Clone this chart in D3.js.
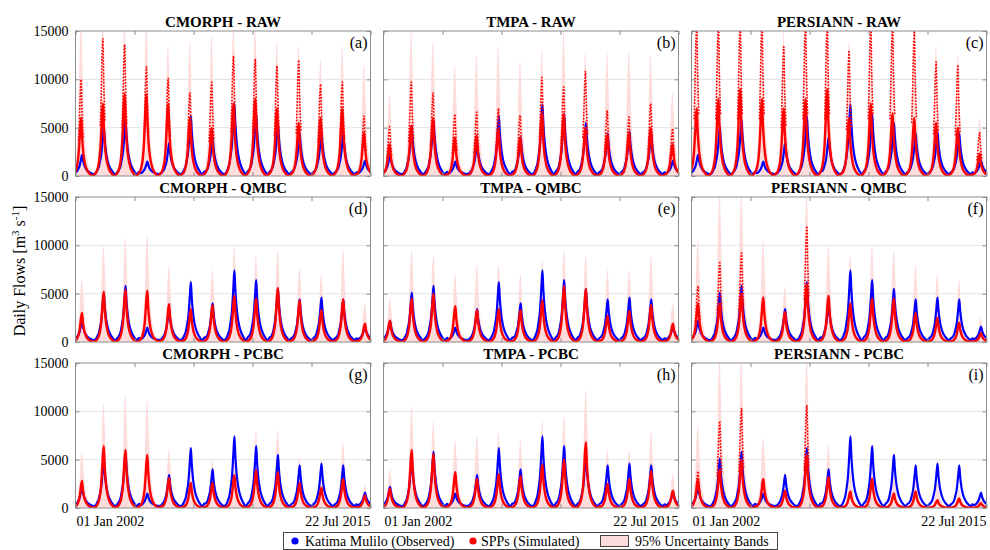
<!DOCTYPE html>
<html>
<head>
<meta charset="utf-8">
<script src="https://cdn.jsdelivr.net/npm/d3@7"></script>
<style>
  body { margin: 0; background: #fff; }
  svg text { font-family: "Liberation Serif", "Times New Roman", serif; fill: #000; }
</style>
</head>
<body>
<svg id="chart" width="990" height="550"></svg>
<script>
// daily flows at Katima Mulilo, one value per water year
var years = [2002, 2003, 2004, 2005, 2006, 2007, 2008, 2009, 2010, 2011, 2012, 2013, 2014, 2015];
var obsPeak = [2200, 5100, 5800, 1500, 3400, 6200, 4000, 7400, 6400, 5500, 4400, 4600, 4400, 1600];
var obsBase = 200, simBase = 30;

// typical hydrograph (fraction of the year from 1 Jan, fraction of the annual peak)
var profT = [0, 0.07, 0.13, 0.18, 0.22, 0.26, 0.30, 0.34, 0.40, 0.48, 0.58, 0.70, 0.82, 0.92];
var obsF  = [0.08, 0.15, 0.27, 0.40, 0.57, 0.80, 1.00, 0.74, 0.47, 0.27, 0.14, 0.05, 0.00, 0.04];
var simF  = [0.05, 0.11, 0.21, 0.37, 0.59, 0.86, 1.00, 0.68, 0.39, 0.20, 0.09, 0.03, 0.00, 0.02];
var bandF = [0.06, 0.14, 0.28, 0.48, 0.74, 0.94, 1.00, 0.82, 0.50, 0.26, 0.11, 0.04, 0.00, 0.03];

// simulated peaks, scatter tops and 95% band tops per panel
var cmorphRawSim   = [6000, 7500, 8500, 8500, 7500, 6000, 5000, 7500, 8000, 7000, 5500, 6000, 7000, 4500];
var cmorphRawSpray = [10000, 14200, 13600, 11300, 10100, 8600, 9700, 12400, 12100, 11400, 12000, 9500, 9700, 6200];
var cmorphRawBand  = [16000, 16000, 16000, 16000, 13500, 14000, 14500, 15500, 15500, 14000, 13500, 12000, 13500, 11500];

var tmpaRawSim   = [3300, 5200, 6000, 4000, 4200, 4800, 4000, 6500, 6400, 5000, 4300, 4500, 5000, 3300];
var tmpaRawSpray = [5100, 9700, 8600, 6400, 6600, 7000, 6300, 10200, 9200, 10800, 6800, 6100, 7500, 4900];
var tmpaRawBand  = [8500, 15000, 14000, 11500, 12500, 13500, 11900, 13200, 15000, 12800, 12800, 13000, 12500, 8700];

var persiannRawSim   = [7000, 8000, 9000, 8000, 7000, 8000, 9000, 6000, 7500, 6500, 6000, 5500, 5000, 2300];
var persiannRawSpray = [16000, 16000, 16000, 16000, 13500, 16000, 16000, 13000, 16000, 16000, 15000, 11800, 11500, 4500];
var persiannRawBand  = [16000, 16000, 16000, 16000, 15000, 16000, 16000, 14000, 16000, 16000, 16000, 13500, 12500, 6000];

var cmorphQmbcSim  = [3000, 5200, 5400, 5300, 3900, 3400, 3800, 4800, 4500, 5600, 4300, 3300, 4400, 1900];
var cmorphQmbcBand = [6500, 10000, 10800, 11100, 7900, 6600, 7500, 10000, 9000, 9600, 7600, 7000, 9600, 4000];

var tmpaQmbcSim  = [2200, 4500, 5000, 3700, 3300, 3400, 3300, 4300, 5800, 5500, 2700, 3200, 3800, 1900];
var tmpaQmbcBand = [4500, 9500, 9000, 7000, 8000, 8000, 7000, 8500, 9500, 9000, 7500, 7500, 9000, 4000];

var persiannQmbcSim   = [4000, 4000, 5000, 4600, 3100, 6000, 4800, 4000, 4500, 4500, 3000, 2500, 2000, 900];
var persiannQmbcSpray = [5800, 8200, 9200, 0, 0, 12000, 0, 0, 0, 0, 0, 0, 0, 0];
var persiannQmbcBand  = [10500, 15500, 15500, 10500, 5800, 15500, 10000, 9000, 10000, 9500, 8000, 7000, 6500, 2500];

var cmorphPcbcSim  = [2800, 6400, 6000, 5500, 3100, 2600, 2600, 3400, 3900, 3700, 2600, 2100, 3000, 1300];
var cmorphPcbcBand = [5800, 10800, 11800, 11200, 6000, 5000, 5000, 7000, 8000, 8100, 5200, 5000, 6800, 2400];

var tmpaPcbcSim  = [2000, 6000, 5600, 3700, 3000, 3500, 3300, 4500, 5000, 6800, 2500, 3000, 3800, 1800];
var tmpaPcbcBand = [4000, 10500, 9000, 7000, 7500, 7800, 7000, 9000, 9500, 12200, 6000, 6000, 8000, 3500];

var persiannPcbcSim   = [3000, 4000, 5000, 3000, 1800, 5500, 3200, 1700, 3000, 1500, 1700, 800, 1000, 500];
var persiannPcbcSpray = [3800, 9000, 10300, 0, 0, 10600, 0, 0, 0, 0, 0, 0, 0, 0];
var persiannPcbcBand  = [8500, 15500, 15500, 7300, 3800, 15500, 6500, 4000, 5000, 3500, 3500, 2500, 2000, 1500];

// timing offset of the simulated peaks (years) per panel
var simShift = [-0.04, -0.02, -0.06, 0, 0, 0, 0, 0, 0];

var titles = ["CMORPH - RAW", "TMPA - RAW", "PERSIANN - RAW",
              "CMORPH - QMBC", "TMPA - QMBC", "PERSIANN - QMBC",
              "CMORPH - PCBC", "TMPA - PCBC", "PERSIANN - PCBC"];
var tags = ["(a)", "(b)", "(c)", "(d)", "(e)", "(f)", "(g)", "(h)", "(i)"];
var yTicks = [0, 5000, 10000, 15000];
var xLabels = ["01 Jan 2002", "22 Jul 2015"];
var startDate = new Date(2002, 0, 1), endDate = new Date(2015, 6, 22);

var panels = [
  { sim: cmorphRawSim, spray: cmorphRawSpray, band: cmorphRawBand },
  { sim: tmpaRawSim, spray: tmpaRawSpray, band: tmpaRawBand },
  { sim: persiannRawSim, spray: persiannRawSpray, band: persiannRawBand },
  { sim: cmorphQmbcSim, spray: null, band: cmorphQmbcBand },
  { sim: tmpaQmbcSim, spray: null, band: tmpaQmbcBand },
  { sim: persiannQmbcSim, spray: persiannQmbcSpray, band: persiannQmbcBand },
  { sim: cmorphPcbcSim, spray: null, band: cmorphPcbcBand },
  { sim: tmpaPcbcSim, spray: null, band: tmpaPcbcBand },
  { sim: persiannPcbcSim, spray: persiannPcbcSpray, band: persiannPcbcBand }
];

// layout
var colX = [75.5, 383.5, 691.5], panelW = 295;
var rowY = [31, 197, 363], panelH = 145;
var bandColor = "#fddcdc", frameColor = "#8c8c8c";

var svg = d3.select("#chart");

function toDate(yr, t) {
  return new Date(yr, 0, 1 + Math.round(t * 365.25));
}

// hydrograph points of one series: each year's peak placed on the typical profile
function hydro(peaks, base, shape, shift, minF) {
  var segs = [];
  years.forEach(function(yr, i) {
    if (!peaks[i]) return;
    var seg = [];
    profT.forEach(function(t, j) {
      if (minF != null && shape[j] < minF) return;
      seg.push({ date: toDate(yr, t + shift), v: base + (peaks[i] - base) * shape[j] });
    });
    segs.push(seg);
  });
  return segs;
}

panels.forEach(function(p, k) {
  var row = Math.floor(k / 3), col = k % 3;
  var left = colX[col], top = rowY[row];

  var x = d3.scaleTime().domain([startDate, endDate]).range([left, left + panelW]);
  var y = d3.scaleLinear().domain([0, 15000]).range([top + panelH, top]);

  var g = svg.append("g");

  svg.append("clipPath").attr("id", "clip" + k)
    .append("rect")
      .attr("x", left).attr("y", top)
      .attr("width", panelW).attr("height", panelH);

  // grid
  g.selectAll(".grid")
    .data([5000, 10000])
    .enter().append("line")
      .attr("x1", left).attr("x2", left + panelW)
      .attr("y1", function(d) { return y(d); })
      .attr("y2", function(d) { return y(d); })
      .attr("stroke", "#e3e3e3").attr("stroke-width", 1);

  var plot = g.append("g").attr("clip-path", "url(#clip" + k + ")");

  var line = d3.line()
    .x(function(d) { return x(d.date); })
    .y(function(d) { return y(d.v); })
    .curve(d3.curveMonotoneX);

  var area = d3.area()
    .x(function(d) { return x(d.date); })
    .y0(y(0))
    .y1(function(d) { return y(d.v); })
    .curve(d3.curveMonotoneX);

  var flat = function(segs) { return [].concat.apply([], segs); };

  // 95% uncertainty band
  plot.append("path")
    .datum(flat(hydro(p.band, 0, bandF, simShift[k])))
    .attr("d", area)
    .attr("fill", bandColor);

  // observed
  plot.append("path")
    .datum(flat(hydro(obsPeak, obsBase, obsF, 0)))
    .attr("d", line)
    .attr("fill", "none")
    .attr("stroke", "#0000ff")
    .attr("stroke-width", 2.2);

  // scattered simulated days above the main curve
  if (p.spray) {
    plot.selectAll(".spray")
      .data(hydro(p.spray, simBase, simF, simShift[k], 0.3))
      .enter().append("path")
        .attr("d", line)
        .attr("fill", "none")
        .attr("stroke", "#ff0000")
        .attr("stroke-width", 1.8)
        .attr("stroke-linecap", "round")
        .attr("stroke-dasharray", "0.1,3");
  }

  // simulated
  plot.append("path")
    .datum(flat(hydro(p.sim, simBase, simF, simShift[k])))
    .attr("d", line)
    .attr("fill", "none")
    .attr("stroke", "#ff0000")
    .attr("stroke-width", 2.4);

  // frame
  g.append("rect")
    .attr("x", left).attr("y", top)
    .attr("width", panelW).attr("height", panelH)
    .attr("fill", "none")
    .attr("stroke", frameColor).attr("stroke-width", 1);

  // y ticks, inward on both sides
  var yl = g.append("g")
    .attr("transform", "translate(" + left + ",0)")
    .call(d3.axisLeft(y).tickValues(yTicks).tickSizeInner(-4).tickSizeOuter(0).tickPadding(7)
      .tickFormat(col === 0 ? d3.format("d") : function() { return ""; }));
  yl.select(".domain").remove();
  yl.selectAll("line").attr("stroke", frameColor);
  yl.selectAll("text").style("font-size", "14px").style("font-family", "Liberation Serif");

  var yr = g.append("g")
    .attr("transform", "translate(" + (left + panelW) + ",0)")
    .call(d3.axisRight(y).tickValues(yTicks).tickSizeInner(-4).tickSizeOuter(0).tickFormat(""));
  yr.select(".domain").remove();
  yr.selectAll("line").attr("stroke", frameColor);

  // x ticks, evenly spaced, inward on top and bottom
  var xTickVals = [0, 1, 2, 3, 4, 5].map(function(i) { return x.invert(left + i * panelW / 5); });
  [[top + panelH, d3.axisBottom], [top, d3.axisTop]].forEach(function(a) {
    var ax = g.append("g")
      .attr("transform", "translate(0," + a[0] + ")")
      .call(a[1](x).tickValues(xTickVals).tickSizeInner(-4).tickSizeOuter(0).tickFormat(""));
    ax.select(".domain").remove();
    ax.selectAll("line").attr("stroke", frameColor);
  });

  // title and tag
  g.append("text")
    .attr("x", left + panelW / 2).attr("y", top - 4)
    .attr("text-anchor", "middle")
    .attr("font-weight", "bold")
    .style("font-size", "15px")
    .text(titles[k]);

  g.append("text")
    .attr("x", left + panelW - 3).attr("y", top + 17)
    .attr("text-anchor", "end")
    .style("font-size", "16px")
    .text(tags[k]);

  if (row === 2) {
    g.append("text")
      .attr("x", left + 1).attr("y", top + panelH + 18)
      .style("font-size", "14px")
      .text(xLabels[0]);
    g.append("text")
      .attr("x", left + panelW).attr("y", top + panelH + 18)
      .attr("text-anchor", "end")
      .style("font-size", "14px")
      .text(xLabels[1]);
  }
});

// y axis label
var ylab = svg.append("text")
  .attr("transform", "translate(25,271) rotate(-90)")
  .attr("text-anchor", "middle")
  .style("font-size", "16px");
ylab.append("tspan").text("Daily Flows [m");
ylab.append("tspan").attr("dy", -6).style("font-size", "11px").text("3");
ylab.append("tspan").attr("dy", 6).text(" s");
ylab.append("tspan").attr("dy", -6).style("font-size", "11px").text("-1");
ylab.append("tspan").attr("dy", 6).text("]");

// legend
var legend = svg.append("g");
legend.append("rect")
  .attr("x", 283.5).attr("y", 532.5).attr("width", 494).attr("height", 17)
  .attr("fill", "#fff").attr("stroke", "#444").attr("stroke-width", 1);
legend.append("circle").attr("cx", 295).attr("cy", 541).attr("r", 3.6).attr("fill", "#0000ff");
legend.append("text").attr("x", 305).attr("y", 546).style("font-size", "14px").text("Katima Mulilo (Observed)");
legend.append("circle").attr("cx", 473).attr("cy", 541).attr("r", 3.6).attr("fill", "#ff0000");
legend.append("text").attr("x", 481).attr("y", 546).style("font-size", "14px").text("SPPs (Simulated)");
legend.append("rect").attr("x", 600.5).attr("y", 535.5).attr("width", 28).attr("height", 11)
  .attr("fill", bandColor).attr("stroke", "#444").attr("stroke-width", 1);
legend.append("text").attr("x", 635).attr("y", 546).style("font-size", "14px").text("95% Uncertainty Bands");
</script>
</body>
</html>
